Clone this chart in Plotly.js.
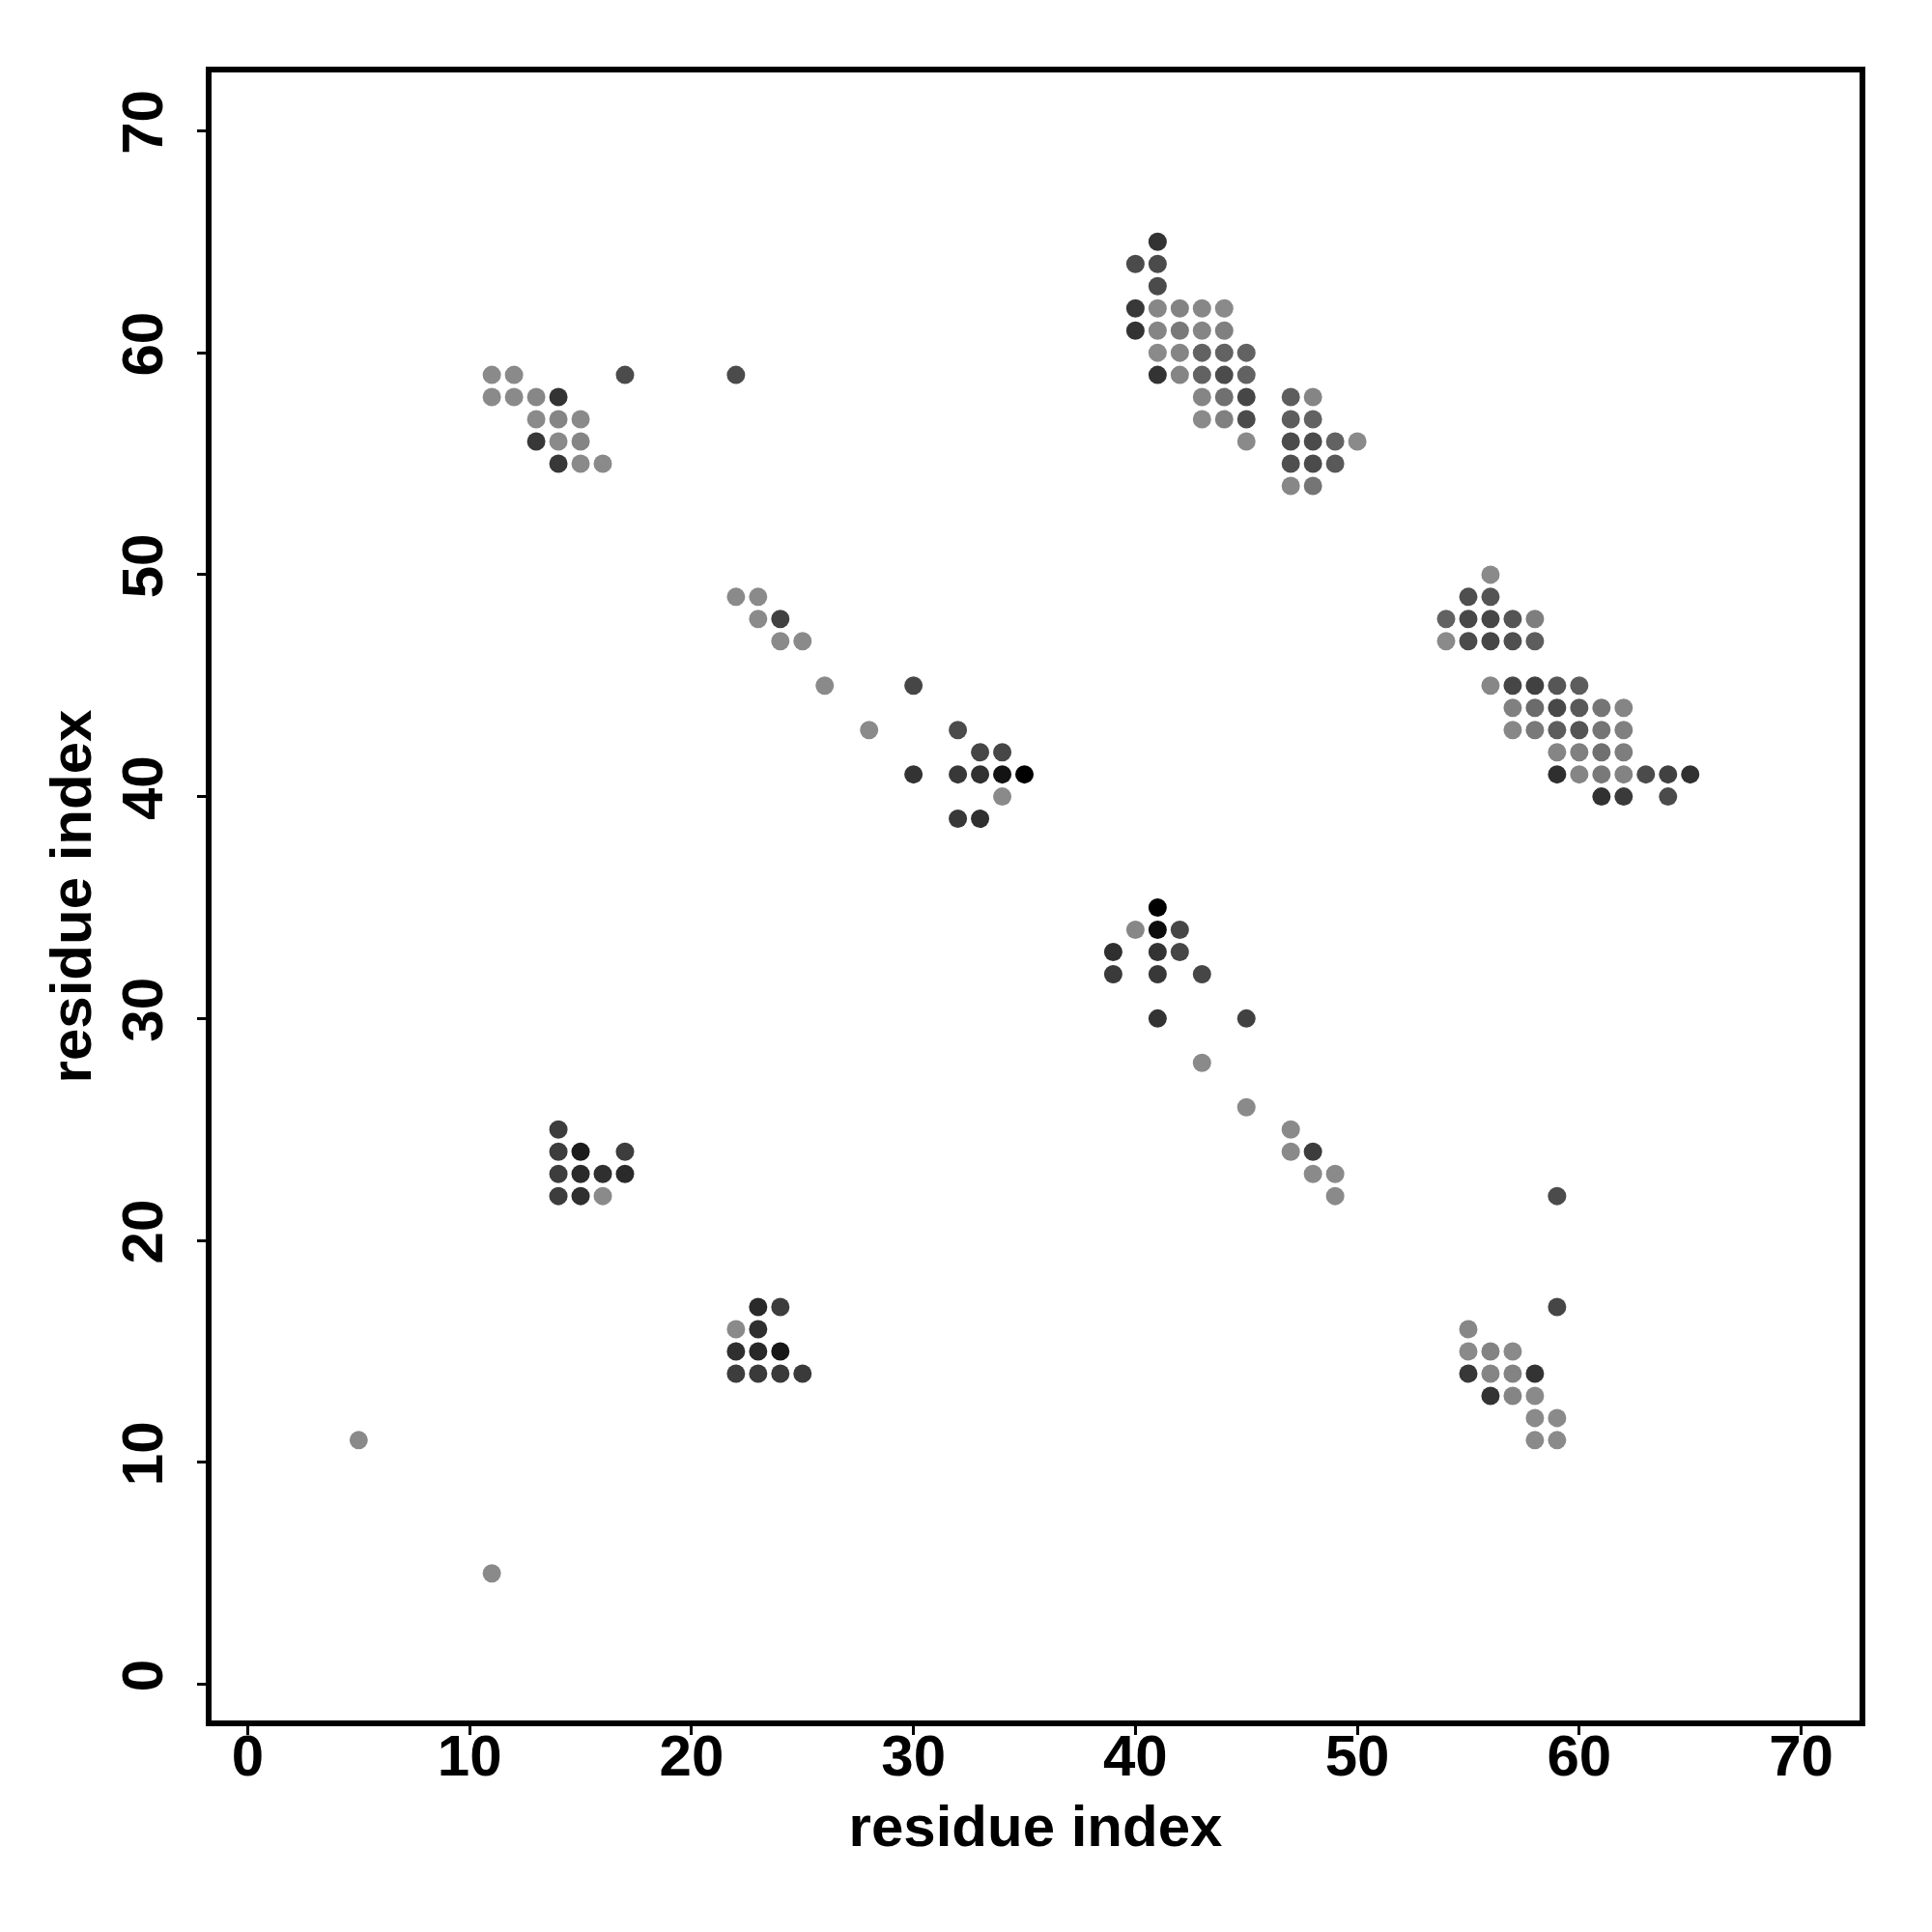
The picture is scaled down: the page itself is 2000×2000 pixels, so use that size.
<!DOCTYPE html>
<html>
<head>
<meta charset="utf-8">
<script src="https://cdn.plot.ly/plotly-3.0.1.min.js"></script>
<style>html,body{margin:0;padding:0;background:#fff;}#chart{width:2000px;height:2000px;}</style>
</head>
<body>
<div id="chart"></div>
<script>
// contact map: residue i, residue j, contact strength (1 = weak/light, 7 = strong/black)
const resI = [
  41, 40,41, 41, 40,41,42,43,44, 40,41,42,43,44, 41,42,43,44,45, 41,42,43,44,45, 43,44,45, 43,44,45, 45,
  47,48, 47,48, 47,48,49,50, 47,48,49, 47,48,
  11,12,17,22, 11,12,13,14, 13,14,15, 13,14,15, 14,15,16,
  22,23, 23,24, 24,25, 26,30, 28,32, 33,34, 30,32,33,34,35, 34, 32,33,
  56, 55,56, 54,55,56,57,58, 54,55,56,57,58, 56,57,58,59,60, 57,58,59,60,61,62, 57,58,59,60,61,62,
  59,60,61,62, 59,60,61,62,63,64,65, 61,62,64,
  41, 40,41,42, 39,41,42, 39,41,43, 41,45, 43, 45, 47, 47,48, 48,49, 49,
  14, 14,15,17, 14,15,16,17, 14,15,16,
  23,24, 22,23, 22,23,24, 22,23,24,25,
  59, 59, 55, 55,56,57, 55,56,57,58, 56,57,58, 58,59, 58,59,
  5, 11
];
const resJ = [
  65, 64,64, 63, 62,62,62,62,62, 61,61,61,61,61, 60,60,60,60,60, 59,59,59,59,59, 58,58,58, 57,57,57, 56,
  58,58, 57,57, 56,56,56,56, 55,55,55, 54,54,
  59,59,59,59, 58,58,58,58, 57,57,57, 56,56,56, 55,55,55,
  49,49, 48,48, 47,47, 45,45, 43,43, 42,42, 41,41,41,41,41, 40, 39,39,
  50, 49,49, 48,48,48,48,48, 47,47,47,47,47, 45,45,45,45,45, 44,44,44,44,44,44, 43,43,43,43,43,43,
  42,42,42,42, 41,41,41,41,41,41,41, 40,40,40,
  35, 34,34,34, 33,33,33, 32,32,32, 30,30, 28, 26, 25, 24,24, 23,23, 22,
  25, 24,24,24, 23,23,23,23, 22,22,22,
  17,17, 16,16, 15,15,15, 14,14,14,14,
  22, 17, 16, 15,15,15, 14,14,14,14, 13,13,13, 12,12, 11,11,
  11, 5
];
const strength = [
  4.8, 3.8,3.8, 3.8, 4.6,1.2,1.4,1.2,1.1, 4.8,1.3,1.8,1.3,1.5, 1.1,1.3,2.8,2.8,2.8, 4.8,1.3,2.8,3.8,2.8, 1.3,2.2,4.0, 1.1,1.5,3.8, 1.1,
  3.0,1.3, 3.0,2.8, 3.8,3.8,2.8,1.1, 3.6,3.8,3.2, 1.2,2.0,
  1.1,1.1,3.8,3.8, 1.1,1.1,1.2,4.8, 1.1,1.3,1.1, 4.6,1.1,1.3, 4.6,1.1,1.1,
  1.1,1.1, 1.1,4.2, 1.1,1.1, 1.1,4.0, 1.1,3.8, 4.0,4.0, 4.8,4.6,4.9,6.2,7.0, 1.1, 4.6,5.0,
  1.1, 3.6,3.4, 2.8,3.9,4.0,3.4,1.6, 1.1,3.8,4.0,3.6,3.0, 1.2,4.0,4.2,3.3,3.0, 1.5,2.4,3.9,3.2,2.0,1.3, 1.2,1.8,3.0,3.4,2.0,1.5,
  1.3,1.5,2.2,1.6, 5.0,1.3,1.8,1.4,3.8,4.2,4.9, 4.9,4.5,3.8,
  7.0, 1.2,6.5,4.0, 5.0,4.8,4.0, 4.5,4.6,4.0, 4.8,4.2, 1.1, 1.1, 1.1, 1.1,4.4, 1.1,1.1, 1.1,
  4.4, 4.4,5.8,4.4, 4.4,5.2,5.0,5.2, 4.4,5.0,1.1,
  5.2,4.4, 1.1,5.0, 5.0,5.3,6.0, 4.4,4.5,4.5,4.5,
  3.8, 4.0, 1.2, 1.1,1.4,1.1, 4.6,1.3,1.4,4.8, 4.8,1.3,1.1, 1.1,1.1, 1.1,1.1,
  1.1, 1.1
];
const tickVals = [0, 10, 20, 30, 40, 50, 60, 70];
const tickText = ['0', '10', '20', '30', '40', '50', '60', '70'];
const axisTitle = 'residue index';

const fontFam = '"Liberation Sans", Arial, Helvetica, sans-serif';
const trace = {
  type: 'scatter',
  mode: 'markers',
  x: resI,
  y: resJ,
  marker: {
    size: 19,
    color: strength,
    cmin: 1,
    cmax: 7,
    colorscale: [[0, 'rgb(140,140,140)'], [1, 'rgb(0,0,0)']],
    showscale: false,
    line: {width: 0}
  },
  hoverinfo: 'x+y'
};
const axisCommon = {
  range: [-1.76, 72.76],
  tickmode: 'array',
  tickvals: tickVals,
  ticktext: tickText,
  ticks: 'outside',
  ticklen: 11,
  tickwidth: 3,
  tickcolor: '#000',
  showgrid: false,
  zeroline: false,
  showline: false,
  tickfont: {family: fontFam, size: 60, color: '#000', weight: 'bold'},
  title: {text: axisTitle, font: {family: fontFam, size: 60, color: '#000', weight: 'bold'}}
};
const layout = {
  width: 2000,
  height: 2000,
  paper_bgcolor: '#fff',
  plot_bgcolor: '#fff',
  showlegend: false,
  margin: {l: 216, r: 72, t: 72, b: 216},
  xaxis: Object.assign({}, axisCommon, {ticklabelstandoff: -30, title: Object.assign({}, axisCommon.title, {standoff: 18})}),
  yaxis: Object.assign({}, axisCommon, {tickangle: -90, ticklabelstandoff: 12, title: Object.assign({}, axisCommon.title, {standoff: 0})}),
  shapes: [{
    type: 'rect', xref: 'paper', yref: 'paper', x0: 0, x1: 1, y0: 0, y1: 1,
    line: {color: '#000', width: 6}, fillcolor: 'rgba(0,0,0,0)', layer: 'above'
  }]
};
Plotly.newPlot('chart', [trace], layout, {displayModeBar: false, staticPlot: true});
</script>
</body>
</html>
